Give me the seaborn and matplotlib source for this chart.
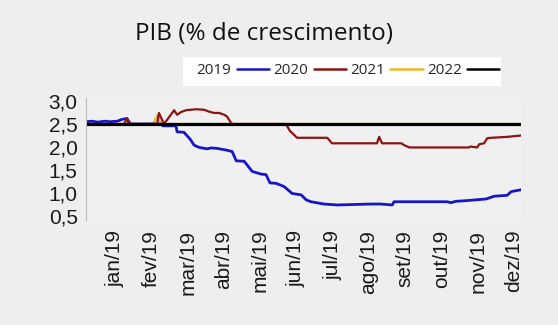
import matplotlib
matplotlib.use("Agg")
import matplotlib.pyplot as plt
import seaborn as sns
from matplotlib.patches import Rectangle
from matplotlib.lines import Line2D

# Month tick labels (tick k sits at month index k)
month_labels = ["jan/19", "fev/19", "mar/19", "abr/19", "mai/19", "jun/19",
                "jul/19", "ago/19", "set/19", "out/19", "nov/19", "dez/19"]
month_pos = list(range(len(month_labels)))

# Focus expectations for GDP growth, by survey date (in month index units)
x_2019 = [-0.80, -0.63, -0.47, -0.30, -0.14, 0.06, 0.19, 0.33, 0.39, 1.27, 1.32,
          1.68, 1.71, 1.90, 2.07, 2.18, 2.32, 2.54, 2.65, 2.81, 3.09, 3.23, 3.34,
          3.56, 3.78, 4.03, 4.16, 4.27, 4.44, 4.66, 4.88, 5.13, 5.27, 5.40, 5.76,
          6.12, 6.59, 7.06, 7.33, 7.64, 7.69, 8.24, 9.15, 9.26, 9.40, 9.62, 10.23,
          10.45, 10.81, 10.92, 11.19]
y_2019 = [2.55, 2.56, 2.54, 2.56, 2.55, 2.56, 2.60, 2.62, 2.50, 2.50, 2.46,
          2.46, 2.33, 2.32, 2.17, 2.04, 1.99, 1.96, 1.98, 1.97, 1.93, 1.90, 1.70,
          1.69, 1.47, 1.41, 1.40, 1.22, 1.21, 1.14, 0.99, 0.96, 0.85, 0.81, 0.76,
          0.74, 0.75, 0.76, 0.76, 0.74, 0.81, 0.81, 0.81, 0.79, 0.82, 0.83, 0.87,
          0.93, 0.95, 1.03, 1.07]

x_2020 = [-0.80, 0.25, 0.33, 0.44, 1.16, 1.21, 1.35, 1.63, 1.71, 1.82, 1.96,
          2.23, 2.45, 2.59, 2.73, 2.87, 3.01, 3.09, 3.20, 3.25, 4.71, 4.82, 5.02,
          5.85, 5.98, 7.22, 7.28, 7.36, 7.89, 7.97, 8.11, 9.76, 9.79, 9.98, 10.04,
          10.17, 10.26, 10.37, 10.81, 11.19]
y_2020 = [2.50, 2.50, 2.62, 2.50, 2.50, 2.74, 2.50, 2.80, 2.70, 2.76, 2.80,
          2.82, 2.81, 2.77, 2.74, 2.74, 2.70, 2.66, 2.52, 2.50, 2.50, 2.35, 2.20,
          2.20, 2.08, 2.08, 2.22, 2.08, 2.08, 2.04, 1.99, 1.99, 2.01, 1.99, 2.06,
          2.08, 2.19, 2.20, 2.22, 2.25]

x_2021 = [-0.80, 1.05, 1.16, 1.27, 11.19]
y_2021 = [2.50, 2.50, 2.68, 2.50, 2.50]

x_2022 = [-0.80, 11.19]
y_2022 = [2.50, 2.50]

y_ticks = [0.5, 1.0, 1.5, 2.0, 2.5, 3.0]

colors = {"2019": "#1616c4", "2020": "#8b1414", "2021": "#f0b429", "2022": "#000000"}
widths = {"2019": 2.0, "2020": 1.6, "2021": 1.6, "2022": 2.3}

sns.set_theme(style="white")
plt.rcParams["font.family"] = ["Liberation Sans", "DejaVu Sans"]

fig = plt.figure(figsize=(5.58, 3.25), dpi=100, facecolor="#eeeeee")
ax = fig.add_axes([86 / 558, 1 - 220 / 325, 435 / 558, 122 / 325])
ax.set_facecolor("#f0f0f0")

# draw order: 2021 underneath, 2022 flat line on top
for name, xs, ys in [("2021", x_2021, y_2021), ("2019", x_2019, y_2019),
                     ("2020", x_2020, y_2020), ("2022", x_2022, y_2022)]:
    sns.lineplot(x=xs, y=ys, ax=ax, color=colors[name], linewidth=widths[name],
                 estimator=None, sort=False, legend=False)

ax.set_xlim(-0.80, 11.19)
ax.set_ylim(0.413, 3.065)
ax.set_yticks(y_ticks)
ax.set_yticklabels([f"{v:.1f}".replace(".", ",") for v in y_ticks])
ax.set_xticks(month_pos)
ax.set_xticklabels(month_labels, rotation=90)
ax.tick_params(axis="both", length=0, labelsize=15, colors="#1a1a1a")
ax.tick_params(axis="x", pad=7)
ax.tick_params(axis="y", pad=6)
for side in ["top", "right", "bottom"]:
    ax.spines[side].set_visible(False)
ax.spines["left"].set_color("#bbbbbb")
ax.spines["left"].set_linewidth(0.8)

fig.text(264 / 558, 1 - 40 / 325, "PIB (% de crescimento)", ha="center",
         va="baseline", fontsize=17.5, color="#111111",
         family=["Open Sans", "DejaVu Sans"])

# white band behind the legend
fig.add_artist(Rectangle((183 / 558, 1 - 86 / 325), 318 / 558, 29 / 325,
                         transform=fig.transFigure, facecolor="white",
                         edgecolor="none", zorder=-1))

order = ["2019", "2020", "2021", "2022"]
handles = [Line2D([], [], color=colors[n], linewidth=1.8) for n in order]
fig.legend(handles, order, loc="center", bbox_to_anchor=(348 / 558, 1 - 71 / 325),
           ncol=4, markerfirst=False, frameon=False, handlelength=2.1,
           handletextpad=0.35, columnspacing=0.3,
           prop={"family": ["Open Sans", "DejaVu Sans"], "size": 11})

fig.savefig("out.png", dpi=100, facecolor=fig.get_facecolor())
